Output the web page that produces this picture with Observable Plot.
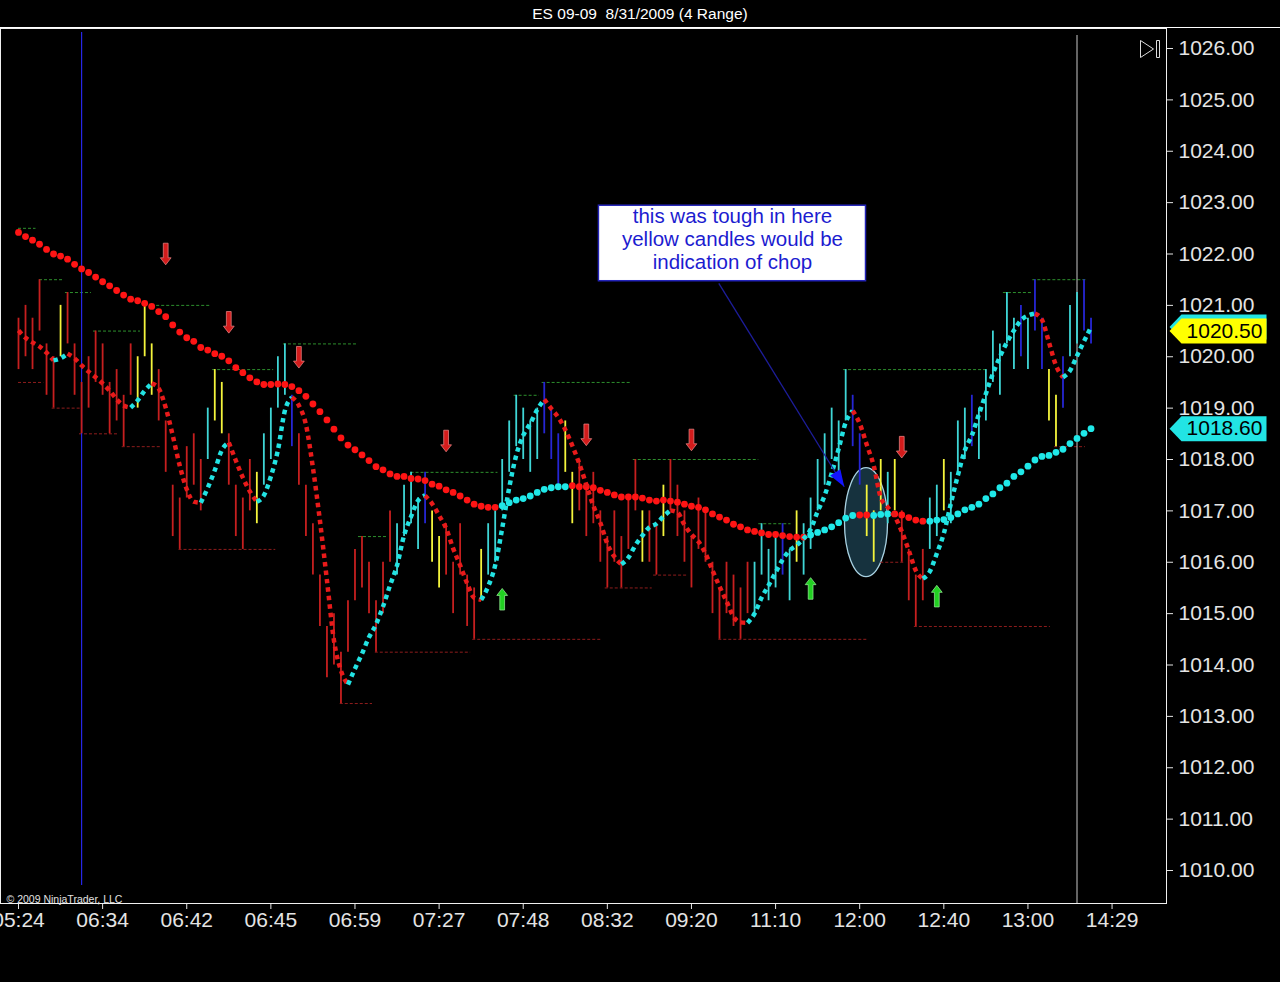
<!DOCTYPE html>
<html><head><meta charset="utf-8">
<script src="https://cdn.jsdelivr.net/npm/d3@7"></script>
<script src="https://cdn.jsdelivr.net/npm/@observablehq/plot@0.6"></script>
<style>
html,body{margin:0;padding:0;background:#000;}
body{width:1280px;height:982px;overflow:hidden;font-family:"Liberation Sans",Arial,sans-serif;}
#title{height:28px;box-sizing:border-box;border-bottom:1px solid #fff;color:#fff;text-align:center;font-size:15.5px;line-height:27px;white-space:pre;}
#chart svg{display:block;}
</style></head><body>
<div id="title"></div>
<div id="chart"></div>
<script>
// ---------------- data ----------------
const chartTitle = "ES 09-09  8/31/2009 (4 Range)";
const timeLabels = ["05:24","06:34","06:42","06:45","06:59","07:27","07:48","08:32","09:20","11:10","12:00","12:40","13:00","14:29"];
const tickBars = [0,12,24,36,48,60,72,84,96,108,120,132,144,156];
const priceTicks = [1010,1011,1012,1013,1014,1015,1016,1017,1018,1019,1020,1021,1022,1023,1024,1025,1026];

const rangeSize = 1.0;          // 4-tick range bars
const lastBarLow = 1020.25;     // bar still forming
const barHigh = [
1020.75,1021,1020.75,1021.5,1020.25,1020,1021,1021.25,1020.25,1019.5,
1020,1020.5,1020.25,1019.5,1019.75,1019.25,1020.25,1020,1021,1020.25,
1019.75,1018.75,1017.5,1017.25,1018.25,1018.5,1018,1019,1019.75,1019.5,
1018.5,1017.5,1017.25,1018,1017.75,1018.5,1019,1020,1020.25,1019.25,
1018.5,1017.5,1016.75,1015.75,1014.75,1015,1014.25,1015.25,1016.25,1016.5,
1016,1015.25,1016,1017,1016.75,1017.5,1017.75,1017.25,1017.75,1017,
1016.5,1016.75,1016,1016.75,1015.75,1015.5,1016.25,1016.75,1017,1018,
1018.75,1019.25,1019,1018.75,1019,1019.5,1019,1018.5,1018.75,1017.75,
1018,1017.5,1017.75,1017,1016.5,1017,1016.5,1017.25,1018,1017,
1017,1016.75,1017.5,1018,1017.5,1017,1016.5,1017.25,1017,1016,
1015.5,1016,1015.75,1015.5,1016,1016,1016.75,1016.25,1016.5,1016.75,
1016.25,1017,1016.75,1017.25,1018,1018.5,1019,1018.75,1019.75,1019.25,
1018.5,1017.5,1017,1018,1017.75,1018,1017,1016.25,1015.75,1016.25,
1017.25,1017.5,1018,1017.75,1018.75,1019,1019.25,1019,1019.75,1020.5,
1020.25,1021.25,1020.75,1021,1020.75,1021.5,1020.75,1019.75,1019.25,1020,
1021,1021.25,1021.5,1020.75];
// R = down bar, C = up bar, Y = chop (yellow), B = blue
const barKind = ("RRRRRRYRRR"+"RRRRRRRYYY"+"RRRRRRRCYY"+"RRRRYCCCCB"+"RRRRRRRRRR"+
                 "RRRRCCCCBY"+"YRRRRRYCCC"+"CCCCCBBBYY"+"RRRRRRRRRY"+"RRYRRRRRRR"+
                 "RRRRRCCCCB"+"CYCCCCCCCB"+"BYYYCYRRRR"+"CCYCCCBCCC"+"CCCBCBBYYB"+"CCBB").split("");

const fastMA = [
1020.51,1020.37,1020.28,1020.20,1020.08,1019.93,1019.97,1020.06,1019.97,1019.83,
1019.71,1019.60,1019.48,1019.34,1019.17,1019.05,1019.01,1019.15,1019.34,1019.48,
1019.38,1019.01,1018.47,1017.88,1017.42,1017.18,1017.16,1017.45,1017.79,1018.18,
1018.33,1017.98,1017.65,1017.38,1017.18,1017.30,1017.67,1018.18,1018.95,1019.21,
1019.05,1018.68,1017.84,1016.81,1015.65,1014.48,1013.89,1013.62,1013.93,1014.22,
1014.54,1014.79,1015.14,1015.55,1015.94,1016.52,1016.89,1017.20,1017.30,1017.14,
1016.91,1016.66,1016.27,1015.94,1015.59,1015.31,1015.27,1015.53,1015.94,1016.66,
1017.45,1018.08,1018.47,1018.70,1018.97,1019.17,1018.99,1018.82,1018.58,1018.27,
1017.92,1017.51,1017.10,1016.77,1016.36,1016.11,1015.96,1016.09,1016.33,1016.52,
1016.68,1016.75,1016.89,1017.01,1016.97,1016.73,1016.54,1016.40,1016.17,1015.84,
1015.53,1015.24,1014.94,1014.83,1014.82,1015.00,1015.31,1015.55,1015.80,1016.05,
1016.23,1016.33,1016.46,1016.64,1016.99,1017.30,1017.73,1018.21,1018.72,1018.95,
1018.70,1018.29,1017.88,1017.26,1017.07,1016.89,1016.60,1016.23,1015.84,1015.68,
1015.82,1016.17,1016.56,1017.14,1017.69,1018.18,1018.47,1018.88,1019.28,1019.67,
1020.00,1020.28,1020.51,1020.71,1020.80,1020.84,1020.72,1020.28,1019.83,1019.60,
1019.73,1020.02,1020.30,1020.58];

const slowMA = [
1022.42,1022.34,1022.27,1022.19,1022.09,1022.00,1021.96,1021.90,1021.80,1021.71,
1021.64,1021.55,1021.46,1021.38,1021.29,1021.20,1021.12,1021.09,1021.04,1020.98,
1020.88,1020.78,1020.62,1020.48,1020.37,1020.30,1020.18,1020.13,1020.06,1020.01,
1019.92,1019.79,1019.69,1019.59,1019.51,1019.46,1019.46,1019.47,1019.46,1019.42,
1019.34,1019.23,1019.08,1018.93,1018.77,1018.59,1018.42,1018.28,1018.19,1018.09,
1017.98,1017.86,1017.80,1017.72,1017.67,1017.67,1017.63,1017.62,1017.59,1017.52,
1017.48,1017.41,1017.36,1017.29,1017.21,1017.13,1017.09,1017.07,1017.07,1017.10,
1017.16,1017.21,1017.24,1017.29,1017.36,1017.42,1017.45,1017.47,1017.47,1017.49,
1017.47,1017.47,1017.45,1017.40,1017.36,1017.31,1017.27,1017.27,1017.27,1017.25,
1017.21,1017.19,1017.21,1017.19,1017.17,1017.13,1017.09,1017.07,1017.02,1016.94,
1016.88,1016.82,1016.74,1016.69,1016.63,1016.60,1016.57,1016.54,1016.54,1016.52,
1016.50,1016.49,1016.49,1016.53,1016.58,1016.63,1016.69,1016.77,1016.86,1016.91,
1016.92,1016.92,1016.91,1016.93,1016.94,1016.94,1016.92,1016.87,1016.82,1016.80,
1016.80,1016.82,1016.83,1016.87,1016.94,1017.02,1017.07,1017.13,1017.24,1017.33,
1017.45,1017.54,1017.67,1017.76,1017.87,1017.99,1018.06,1018.08,1018.14,1018.20,
1018.31,1018.41,1018.51,1018.60];
const slowTrendStarts = [[0,"down"],[69,"up"],[79,"down"],[113,"up"],[120,"down"],[122,"up"],[125,"down"],[130,"up"]];

// swing high / low levels: [price, fromBar, toBar]
const swingHighs = [[1022.5,0,2.5],[1021.5,3,6.4],[1021.25,6.7,10.4],[1020.5,10.7,17.4],[1021.0,19,27.4],
  [1019.75,27.7,36.4],[1020.25,37.8,48.5],[1016.5,48.5,52.7],[1017.75,56,68.4],[1019.25,70.7,74.3],
  [1019.5,74.7,87.4],[1018.0,87.7,105.6],[1016.75,105.6,110.2],[1019.75,117.7,138.2],[1021.25,140.5,144.5],[1021.5,144.7,152.3]];
const swingLows = [[1019.5,0,3.6],[1019.0,4.8,9.1],[1018.5,8.7,14.4],[1018.25,14.8,20.5],[1016.25,22.9,36.7],
  [1013.25,45.9,50.5],[1014.25,50.9,64.5],[1014.5,64.8,83.3],[1015.5,83.7,90.4],[1015.75,90.6,95.4],
  [1014.5,99.9,121.3],[1016.0,123,126.3],[1014.75,127.8,147.2],[1018.25,147.8,152.2]];

const downArrows = [[21,1022.0],[30,1020.67],[40,1019.99],[61,1018.36],[81,1018.48],[96,1018.38],[126,1018.24]];
const upArrows = [[69,1015.28],[113,1015.49],[131,1015.34]];

const sessionOpenBar = 9;
const nowBar = 151;
const lastPrice = 1020.50;
const chopZone = {bar: 120.9, price: 1016.78};
const note = {x1: 82.8, x2: 120.9, y1: 1022.94, y2: 1021.47, yc: 1022.30,
  text: "this was tough in here\nyellow candles would be\nindication of chop"};
const pointer = {x1: 99.9, y1: 1021.43, x2: 117.8, y2: 1017.47};
const copyright = "© 2009 NinjaTrader, LLC";

// ---------------- styles ----------------
const barColors = {R: "#c61f1f", C: "#3fd6d6", Y: "#f4f43c", B: "#2626d4"};
const fastUp = "#22e2e2", fastDown = "#e81a1a";
const slowUp = "#1fe8e8", slowDown = "#ff1414";

// ---------------- derived tables ----------------
const bars = barHigh.map((h, i) => ({i, high: h, low: i === barHigh.length - 1 ? lastBarLow : h - rangeSize, color: barColors[barKind[i]]}));

const fastRows = [];
{
  let run = 0, prev = null;
  for (let i = 1; i < fastMA.length; i++) {
    const c = fastMA[i] > fastMA[i-1] ? "up" : fastMA[i] < fastMA[i-1] ? "down" : (prev || "down");
    if (c !== prev) { run++; fastRows.push({i: i-1, v: fastMA[i-1], run, c}); prev = c; }
    fastRows.push({i, v: fastMA[i], run, c});
  }
}
const slowRows = slowMA.map((v, i) => {
  let t = "down";
  for (const [start, trend] of slowTrendStarts) if (i >= start) t = trend;
  return {i, v, color: t === "up" ? slowUp : slowDown};
});
const hiRows = swingHighs.map(([p, a, b]) => ({p, a, b}));
const loRows = swingLows.map(([p, a, b]) => ({p, a, b}));
const downRows = downArrows.map(([bar, price]) => ({bar, price}));
const upRows = upArrows.map(([bar, price]) => ({bar, price}));

// ---------------- custom symbols ----------------
function blockArrow(dir) {
  return {draw(ctx, size) {
    const k = Math.sqrt(size / Math.PI) / 10;
    const pts = [[-2.4,-10.8],[2.4,-10.8],[2.4,3.8],[5.4,3.8],[0,10.8],[-5.4,3.8],[-2.4,3.8]];
    pts.forEach(([x, y], j) => { const yy = y * dir * k, xx = x * k; j ? ctx.lineTo(xx, yy) : ctx.moveTo(xx, yy); });
    ctx.closePath();
  }};
}
const ellipseSym = {draw(ctx, size) {
  const ry = Math.sqrt(size / Math.PI), rx = ry * 0.395, c = 0.5523;
  ctx.moveTo(0, -ry);
  ctx.bezierCurveTo(c*rx, -ry, rx, -c*ry, rx, 0);
  ctx.bezierCurveTo(rx, c*ry, c*rx, ry, 0, ry);
  ctx.bezierCurveTo(-c*rx, ry, -rx, c*ry, -rx, 0);
  ctx.bezierCurveTo(-rx, -c*ry, -c*rx, -ry, 0, -ry);
  ctx.closePath();
}};
const headSym = {draw(ctx) { ctx.moveTo(0, 0); ctx.lineTo(-6, 17); ctx.lineTo(6, 17); ctx.closePath(); }};
const tagSym = {draw(ctx) {
  ctx.moveTo(3, 0); ctx.lineTo(15, -12.5); ctx.lineTo(100, -12.5); ctx.lineTo(100, 12.5); ctx.lineTo(15, 12.5); ctx.closePath();
}};
const iconSym = {draw(ctx) {
  ctx.moveTo(-9, -8.5); ctx.lineTo(4, 0); ctx.lineTo(-9, 8.5); ctx.closePath();
  ctx.moveTo(7, -8.5); ctx.lineTo(10, -8.5); ctx.lineTo(10, 8.5); ctx.lineTo(7, 8.5); ctx.closePath();
}};

document.getElementById("title").textContent = chartTitle;

const tagShape = (value, color) => Plot.dot([value], {y: d => d, frameAnchor: "right", symbol: tagSym, r: 10, fill: color});
const tagText = (value) => Plot.text([value], {y: d => d, frameAnchor: "right", text: d => d.toFixed(2), dx: 58, textAnchor: "middle", fontSize: 21, fill: "#000"});

const plot = Plot.plot({
  width: 1280, height: 954,
  marginTop: 0, marginBottom: 79, marginLeft: 0, marginRight: 114,
  style: {background: "#000", color: "#e4e4e4", fontFamily: "'Liberation Sans', Arial, sans-serif", fontSize: "21px"},
  x: {type: "linear", domain: [0, 156], range: [18, 18 + 156 * 7.01], ticks: tickBars,
      tickFormat: d => timeLabels[tickBars.indexOf(d)], tickSize: 6, tickPadding: 3, label: null},
  y: {domain: [1010, 1026], range: [842, 20], axis: "right", ticks: priceTicks,
      tickFormat: d => d.toFixed(2), tickSize: 6, tickPadding: 6, label: null},
  marks: [
    Plot.frame({stroke: "#f0f0f0"}),
    Plot.dot([chopZone], {x: "bar", y: "price", symbol: ellipseSym, r: 54.5, fill: "#4aa6cc", fillOpacity: 0.3, stroke: "#a9d2e2", strokeWidth: 1.3}),
    Plot.ruleY(hiRows, {y: "p", x1: "a", x2: "b", stroke: "#2d8f2d", strokeWidth: 1, strokeDasharray: "3,2"}),
    Plot.ruleY(loRows, {y: "p", x1: "a", x2: "b", stroke: "#8e1c1c", strokeWidth: 1, strokeDasharray: "3,2"}),
    Plot.ruleX([sessionOpenBar], {stroke: "#2626e6", strokeWidth: 1.2, insetTop: 4, insetBottom: 18}),
    Plot.ruleX([nowBar], {stroke: "#c8c8c8", strokeWidth: 1, insetTop: 7}),
    Plot.ruleX(bars, {x: "i", y1: "low", y2: "high", stroke: "color", strokeWidth: 1.8}),
    Plot.dot(slowRows, {x: "i", y: "v", r: 3.4, fill: "color"}),
    Plot.line(fastRows, {x: "i", y: "v", z: "run", stroke: d => d.c === "up" ? fastUp : fastDown,
      strokeWidth: 4.5, strokeDasharray: "4.5,4", strokeLinecap: "butt", curve: "monotone-x"}),
    Plot.dot(downRows, {x: "bar", y: "price", symbol: blockArrow(1), r: 10, fill: "#d31c1c", stroke: "#f08a8a", strokeWidth: 0.7}),
    Plot.dot(upRows, {x: "bar", y: "price", symbol: blockArrow(-1), r: 10, fill: "#22d022", stroke: "#9af09a", strokeWidth: 0.7}),
    Plot.link([pointer], {x1: "x1", y1: "y1", x2: "x2", y2: "y2", stroke: "#1d1d9a", strokeWidth: 1.3}),
    Plot.dot([pointer], {x: "x2", y: "y2", symbol: headSym, r: 10, rotate: 148, fill: "#1414ff"}),
    Plot.rect([note], {x1: "x1", x2: "x2", y1: "y1", y2: "y2", fill: "#ffffff", stroke: "#2323b8", strokeWidth: 1.5}),
    Plot.text([note], {x: d => (d.x1 + d.x2) / 2, y: "yc", text: "text", fill: "#1c1cd0", fontSize: 20.5, lineHeight: 1.14}),
    Plot.text([copyright], {frameAnchor: "bottom-left", text: d => d, textAnchor: "start", lineAnchor: "bottom", dx: 6, dy: -1, fontSize: 10.5, fill: "#e0e0e0"}),
    Plot.dot([0], {frameAnchor: "top-right", symbol: iconSym, r: 10, dx: -17, dy: 20.5, stroke: "#dcdcdc", fill: "none", strokeWidth: 1}),
    // price tags: slow MA, fast MA (mostly hidden behind the last-price tag), last price
    tagShape(slowMA[slowMA.length - 1], "#22e4e4"),
    tagText(slowMA[slowMA.length - 1]),
    tagShape(fastMA[fastMA.length - 1], "#22e4e4"),
    tagShape(lastPrice, "#ffff00"),
    tagText(lastPrice)
  ]
});
document.getElementById("chart").appendChild(plot);
</script>
</body></html>
